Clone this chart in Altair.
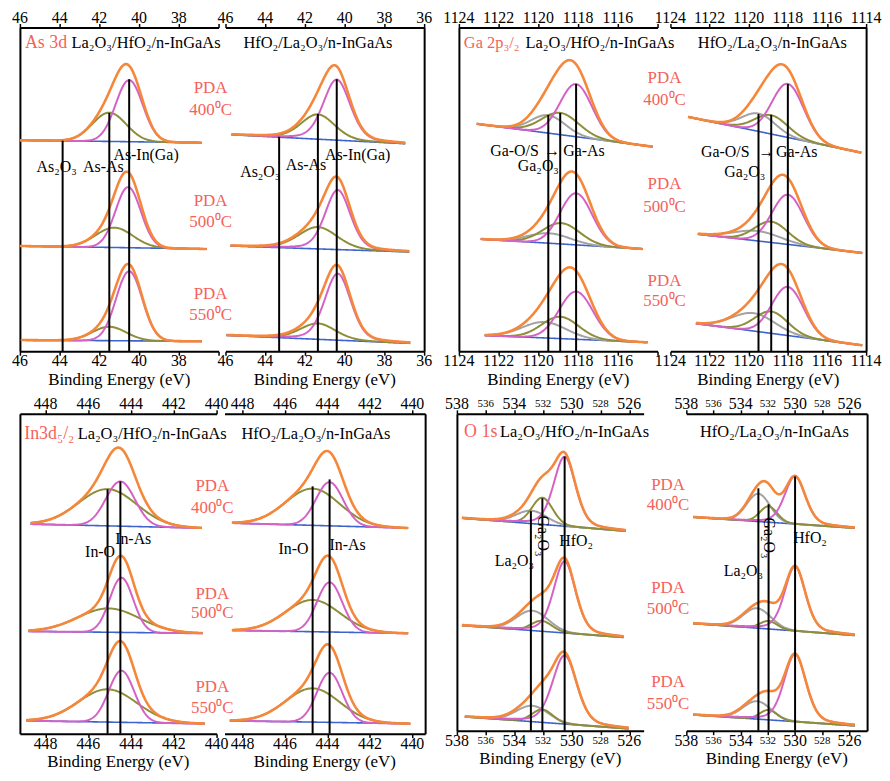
import altair as alt
import numpy as np
import pandas as pd

FONT = "Liberation Serif"
RED = "#f4625a"
ORANGE = "#f5873a"
PINK = "#d462c6"
OLIVE = "#8e8e3a"
GRAY = "#a3a3a3"
BLUE = "#3f63cc"

TEMPS = ["400", "500", "550"]

# ---------------- As 3d : La2O3/HfO2 (A1) and HfO2/La2O3 (A2) ----------------
A1_span = [(46.0, 36.85), (46.0, 36.6), (45.95, 36.85)]
A1_bg = [(212.5, 210.0), (106.0, 103.0), (11.3, 10.0)]
A1_pink = [(40.5, 62, 1.6), (40.55, 61, 1.5), (40.5, 70, 1.55)]
A1_olive = [(41.5, 29, 2.0), (41.25, 20, 2.2), (41.5, 14, 2.0)]

A2_span = [(45.7, 36.95), (45.75, 36.75), (45.95, 36.7)]
A2_bg = [(218, 209), (106, 100), (16, 8)]
A2_pink = [(40.4, 61, 1.6), (40.35, 60, 1.5), (40.35, 67, 1.55)]
A2_olive = [(41.35, 25, 2.0), (41.35, 22, 2.3), (41.35, 16, 2.1)]

# ---------------- Ga 2p3/2 ----------------
B1_span = [(1123.1, 1114.25), (1122.9, 1114.75), (1122.7, 1114.5)]
B1_bg = [(229, 206), (113, 103), (16, 9)]
B1_pink = [(1118.1, 53, 1.9), (1118.1, 52, 1.9), (1118.1, 48, 2.0)]
B1_olive = [(1118.9, 22, 2.2), (1118.85, 21, 2.2), (1118.9, 22, 2.2)]
B1_gray = [(1119.5, 18, 2.0), (1119.45, 10, 2.5), (1119.7, 16, 2.6)]

B2_span = [(1123.1, 1114.25), (1122.6, 1114.2), (1122.7, 1114.2)]
B2_bg = [(236, 200), (118, 99), (28, 6)]
B2_pink = [(1118.0, 54, 1.9), (1118.0, 50, 1.9), (1118.0, 49, 1.9)]
B2_olive = [(1118.85, 19, 2.0), (1118.85, 21, 2.0), (1118.85, 22, 2.0)]
B2_gray = [(1119.5, 18, 2.0), (1119.55, 10, 2.8), (1119.75, 18, 2.6)]

# ---------------- In 3d5/2 ----------------
C1_span = [(448.7, 440.7), (448.8, 440.65), (448.9, 440.55)]
C1_bg = [(211, 207), (103, 101), (13, 10)]
C1_pink = [(444.5, 45, 1.6), (444.45, 55, 1.3), (444.45, 52, 1.4)]
C1_olive = [(445.1, 37, 3.2), (445.05, 24, 3.4), (445.1, 33, 3.2)]

C2_span = [(448.5, 440.2), (448.5, 440.2), (448.6, 440.1)]
C2_bg = [(212, 207), (104, 101), (13, 10)]
C2_pink = [(443.9, 44, 1.5), (443.9, 50, 1.4), (443.9, 50, 1.4)]
C2_olive = [(444.7, 37, 3.0), (444.7, 32, 3.0), (444.7, 34, 3.0)]

# ---------------- O 1s ----------------
D1_span = [(537.65, 526.25), (537.65, 526.4), (537.45, 526.05)]
D1_bg = [(214, 201), (106, 94), (14, 2)]
D1_pink = [(530.5, 70, 1.8), (530.5, 72, 1.8), (530.5, 69, 2.0)]
D1_olive = [(532.05, 27, 1.7), (532.1, 10.5, 1.7), (532.05, 13, 1.7)]
D1_gray = [(532.8, 13, 2.5), (532.75, 20, 2.6), (532.75, 16, 2.6)]

D2_span = [(537.5, 525.6), (537.5, 525.6), (537.5, 525.6)]
D2_bg = [(215, 204), (108, 96), (16, 5)]
D2_pink = [(530.0, 48, 1.8), (530.0, 65, 1.8), (530.0, 68, 1.9)]
D2_olive = [(531.95, 16, 1.5), (531.95, 8, 1.5), (531.95, 10, 1.5)]
D2_gray = [(532.7, 28, 2.0), (532.8, 20, 2.4), (532.8, 18, 2.4)]


def lineshape(e, c, h, w, m):
    u = (e - c) / w
    return h * ((1 - m) * np.exp(-4 * np.log(2) * u * u) + m / (1 + 4 * u * u))


def build(spans, bgs, comps):
    frames = []
    for i in range(3):
        e0, e1 = spans[i]
        e = np.linspace(e0, e1, 240)
        bl, br = bgs[i]
        bg = bl + (br - bl) * (e0 - e) / (e0 - e1)
        total = bg.copy()
        frames.append(pd.DataFrame({"E": e, "I": bg, "k": "bg", "s": i}))
        for name, params, m in comps:
            c, h, w = params[i]
            y = lineshape(e, c, h, w, m)
            total = total + y
            frames.append(pd.DataFrame({"E": e, "I": bg + y, "k": name, "s": i}))
        frames.append(pd.DataFrame({"E": e, "I": total, "k": "env", "s": i}))
    return pd.concat(frames, ignore_index=True)


STYLE = [("bg", BLUE, 1.6), ("gray", GRAY, 2.0), ("olive", OLIVE, 2.0),
         ("pink", PINK, 2.0), ("env", ORANGE, 2.6)]


def panel(dom, ticks, labelled, width, height, df, rules, labels, side, small=False):
    xs = alt.Scale(domain=[dom[1], dom[0]], reverse=True, nice=False, zero=False)
    ys = alt.Scale(domain=[0, height], nice=False, zero=False)
    common = dict(values=ticks, labels=False, title=None, tickColor="black",
                  tickSize=4, tickWidth=1.5, domainColor="black", domainWidth=2,
                  grid=False)
    ax_bottom = alt.Axis(orient="bottom", **common)
    ax_top = alt.Axis(orient="top", **common)
    ax_y = alt.Axis(orient=side, labels=False, ticks=False, title=None,
                    domainColor="black", domainWidth=2, grid=False)
    # tick labels and axis title drawn as text through the x scale
    extra = []
    for t in labelled:
        fs = 11 if (small and t % 4 == 0) else 16
        extra.append((str(t), t, -10, "black", fs, "center", 0))
        extra.append((str(t), t, height + 10, "black", fs, "center", 0))
    extra.append(("Binding Energy (eV)", (dom[0] + dom[1]) / 2, -29, "black", 17,
                  "center", 0))
    labels = labels + extra
    layers = []
    kinds = set(df["k"])
    for k, col, sw in STYLE:
        if k not in kinds:
            continue
        first = k == "bg"
        layers.append(
            alt.Chart(df).transform_filter(alt.datum.k == k)
            .mark_line(color=col, strokeWidth=sw)
            .encode(x=alt.X("E:Q", scale=xs, axis=ax_bottom if first else None),
                    y=alt.Y("I:Q", scale=ys, axis=ax_y if first else None),
                    detail="s:N")
        )
    rdf = pd.DataFrame({"E": [r[0] for r in rules], "top": [r[1] for r in rules],
                        "bot": [0] * len(rules)})
    layers.append(
        alt.Chart(rdf).mark_rule(color="black", strokeWidth=2)
        .encode(x=alt.X("E:Q", scale=xs, axis=ax_top),
                y=alt.Y("top:Q", scale=ys, axis=None), y2="bot:Q")
    )
    ldf = pd.DataFrame(labels, columns=["text", "E", "I", "col", "fs", "align", "ang"])
    for al in ["left", "center"]:
        sub = ldf[ldf["align"] == al]
        if len(sub) == 0:
            continue
        layers.append(
            alt.Chart(sub).mark_text(font=FONT, align=al, baseline="middle")
            .encode(x=alt.X("E:Q", scale=xs, axis=None),
                    y=alt.Y("I:Q", scale=ys, axis=None),
                    text="text:N",
                    color=alt.Color("col:N", scale=None),
                    size=alt.Size("fs:Q", scale=None),
                    angle=alt.Angle("ang:Q", scale=None))
        )
    return alt.layer(*layers).resolve_axis(x="independent", y="independent").properties(
        width=width, height=height)


def spacer(w):
    return alt.Chart(pd.DataFrame({"v": [0]})).mark_point(opacity=0).encode(
        x=alt.X("v:Q", axis=None), y=alt.Y("v:Q", axis=None)
    ).properties(width=w, height=10)


def pda(x, ys):
    out = []
    for t, (y1, y2) in zip(TEMPS, ys):
        out.append(("PDA", x, y1, RED, 17, "center", 0))
        out.append((t + "⁰C", x, y2, RED, 17, "center", 0))
    return out


LA_HF = "La₂O₃/HfO₂/n-InGaAs"
HF_LA = "HfO₂/La₂O₃/n-InGaAs"
K = "black"
HS = 16.5   # header font size
LS = 16     # peak label font size
RS = 18     # red core-level label size

AS_T = [46, 44, 42, 40, 38, 36]
GA_T = [1124, 1122, 1120, 1118, 1116, 1114]
IN_T = [448, 446, 444, 442, 440]
O_T = [538, 536, 534, 532, 530, 528, 526]

# ---------- panels ----------
A1 = panel((46, 36), AS_T, AS_T[:-1], 200, 326,
           build(A1_span, A1_bg, [("olive", A1_olive, 0.0), ("pink", A1_pink, 0.0)]),
           [(43.85, 212), (41.5, 240), (40.5, 274)],
           [("As-In(Ga)", 39.65, 198, K, LS, "center", 0),
            ("As₂O₃", 44.15, 186, K, LS, "center", 0),
            ("As-As", 41.8, 186, K, LS, "center", 0),
            ("As 3d", 45.75, 310, RED, RS, "left", 0),
            (LA_HF, 43.4, 310, K, HS, "left", 0)]
           + pda(36.4, [(265, 243), (151, 130), (58, 36)]),
           "left")

A2 = panel((46, 36), AS_T, AS_T, 200, 326,
           build(A2_span, A2_bg, [("olive", A2_olive, 0.2), ("pink", A2_pink, 0.25)]),
           [(43.3, 216), (41.35, 239), (40.4, 274)],
           [("As-In(Ga)", 39.35, 198, K, LS, "center", 0),
            ("As-As", 41.95, 188, K, LS, "center", 0),
            ("As₂O₃", 44.25, 180, K, LS, "center", 0),
            (HF_LA, 45.1, 310, K, HS, "left", 0)],
           "right")

B1 = panel((1124, 1114), GA_T, GA_T[:-1], 200, 326,
           build(B1_span, B1_bg, [("gray", B1_gray, 0.0), ("olive", B1_olive, 0.0),
                                  ("pink", B1_pink, 0.0)]),
           [(1119.5, 238), (1118.9, 240), (1118.1, 269)],
           [("Ga-O/S", 1121.2, 202, K, LS, "center", 0),
            ("→", 1119.3, 202, K, LS, "center", 0),
            ("Ga-As", 1117.7, 202, K, LS, "center", 0),
            ("Ga₂O₃", 1120.0, 187, K, LS, "center", 0),
            ("Ga 2p₃/₂", 1123.75, 310, RED, 16.5, "left", 0),
            (LA_HF, 1120.65, 310, K, HS, "left", 0)]
           + pda(1113.65, [(275, 253), (168, 145), (71, 51)]),
           "left")

B2 = panel((1124, 1114), GA_T, GA_T, 197, 326,
           build(B2_span, B2_bg, [("gray", B2_gray, 0.0), ("olive", B2_olive, 0.0),
                                  ("pink", B2_pink, 0.0)]),
           [(1119.5, 239), (1118.85, 238), (1118.0, 269)],
           [("Ga-O/S", 1121.2, 201, K, LS, "center", 0),
            ("→", 1119.1, 201, K, LS, "center", 0),
            ("Ga-As", 1117.55, 201, K, LS, "center", 0),
            ("Ga₂O₃", 1120.2, 180, K, LS, "center", 0),
            (HF_LA, 1122.6, 310, K, HS, "left", 0)],
           "right")

C1 = panel((449.2, 440), IN_T, IN_T, 198, 322,
           build(C1_span, C1_bg, [("olive", C1_olive, 0.0), ("pink", C1_pink, 0.0)]),
           [(445.1, 246), (444.5, 254)],
           [("In-As", 443.9, 196, K, LS, "center", 0),
            ("In-O", 445.45, 183, K, LS, "center", 0),
            ("In3d₅/₂", 449.0, 302, RED, RS, "left", 0),
            (LA_HF, 446.5, 302, K, HS, "left", 0)]
           + pda(440.2, [(249, 227), (141, 121), (47, 26)]),
           "left")

C2 = panel((448.85, 439.4), IN_T, IN_T, 202, 322,
           build(C2_span, C2_bg, [("olive", C2_olive, 0.0), ("pink", C2_pink, 0.0)]),
           [(444.7, 249), (443.9, 256)],
           [("In-As", 443.05, 190, K, LS, "center", 0),
            ("In-O", 445.6, 186, K, LS, "center", 0),
            (HF_LA, 448.05, 302, K, HS, "left", 0)],
           "right")

D1 = panel((538, 525), O_T, O_T, 188, 319,
           build(D1_span, D1_bg, [("gray", D1_gray, 0.0), ("olive", D1_olive, 0.1),
                                  ("pink", D1_pink, 0.3)]),
           [(532.85, 221), (532.05, 234), (530.5, 276)],
           [("HfO₂", 529.7, 191, K, LS, "center", 0),
            ("La₂O₃", 534.0, 171, K, LS, "center", 0),
            ("Ga₂O₃", 532.0, 196, K, LS, "center", 90),
            ("O 1s", 537.5, 301, RED, RS, "left", 0),
            (LA_HF, 535.0, 301, K, HS, "left", 0)]
           + pda(523.3, [(247, 227), (144, 122), (49, 27)]),
           "left", small=True)

D2 = panel((538, 524.7), O_T, O_T, 182, 319,
           build(D2_span, D2_bg, [("gray", D2_gray, 0.0), ("olive", D2_olive, 0.1),
                                  ("pink", D2_pink, 0.3)]),
           [(532.7, 244), (531.95, 228), (530.0, 256)],
           [("HfO₂", 528.9, 194, K, LS, "center", 0),
            ("La₂O₃", 533.8, 161, K, LS, "center", 0),
            ("Ga₂O₃", 531.95, 194, K, LS, "center", 90),
            (HF_LA, 537.0, 301, K, HS, "left", 0)],
           "right", small=True)

top_row = alt.hconcat(A1, spacer(7), A2, spacer(35), B1, spacer(13), B2,
                      spacing=0, bounds="flush")
bottom_row = alt.hconcat(C1, spacer(8), C2, spacer(32), D1, spacer(43), D2,
                         spacing=0, bounds="flush")

chart = alt.vconcat(top_row, bottom_row, spacing=8).properties(
    padding={"left": 4, "top": -2, "right": 0, "bottom": 0}
).configure(font=FONT).configure_view(stroke=None).configure_text(font=FONT)

chart.save("out.html", embed_options={"renderer": "svg", "actions": False})
